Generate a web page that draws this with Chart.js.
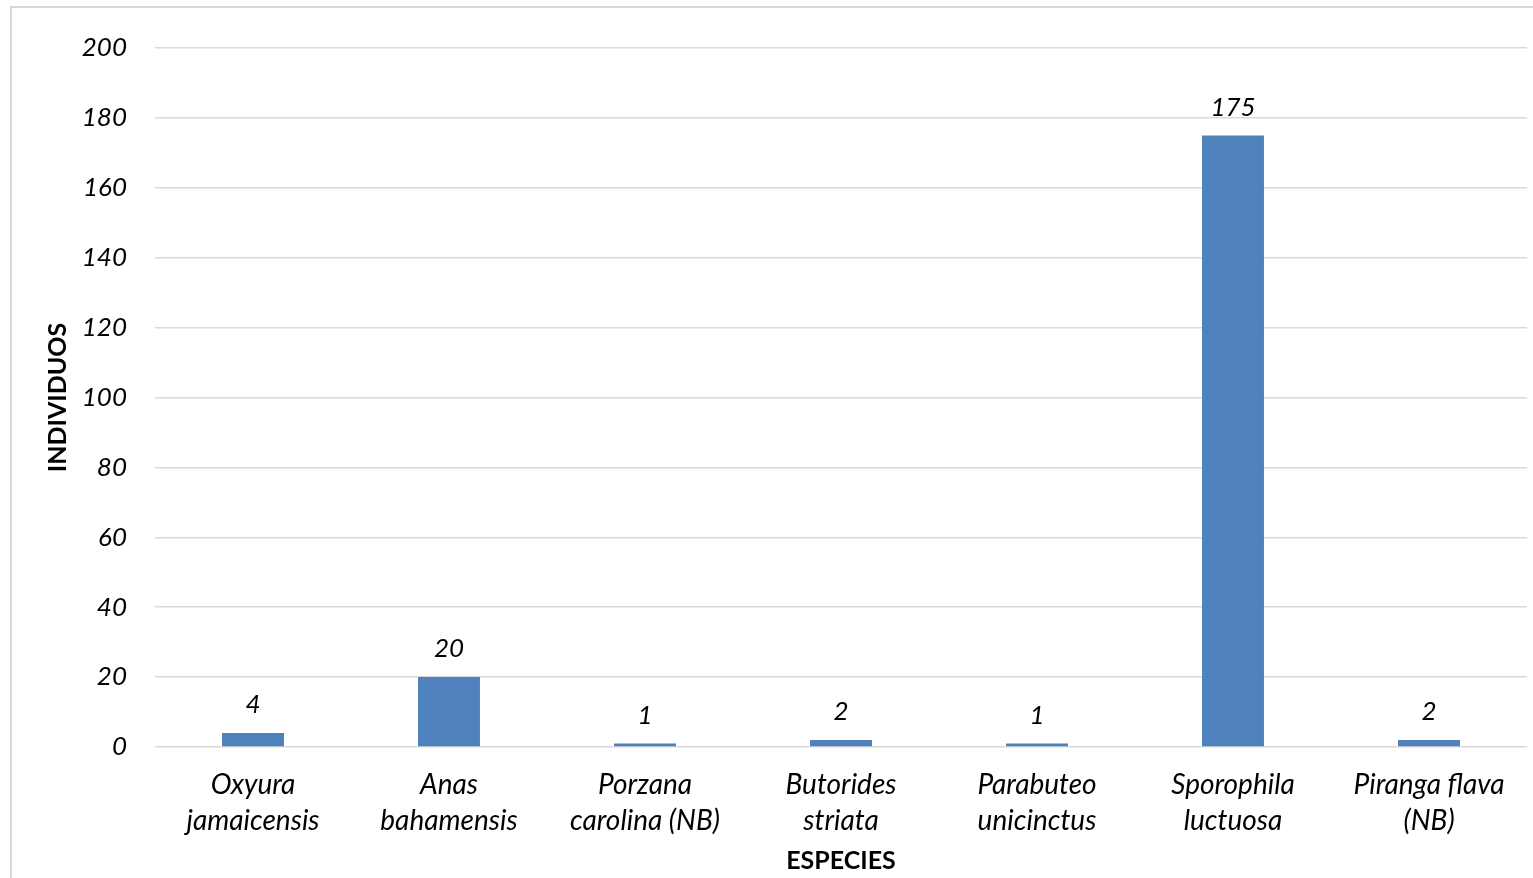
<!DOCTYPE html>
<html>
<head>
<meta charset="utf-8">
<script src="https://cdn.jsdelivr.net/npm/chart.js@4"></script>
<style>
  html, body { margin: 0; padding: 0; background: #fff; overflow: hidden; }
  #wrap { position: relative; width: 1533px; height: 878px; }
  #frame { position: absolute; left: 10px; top: 6px; width: 1600px; height: 1000px; border: 2px solid #d9d9d9; box-sizing: border-box; pointer-events: none; }
  canvas { position: absolute; left: 0; top: 0; }
</style>
</head>
<body>
<div id="wrap">
  <div id="frame"></div>
  <canvas id="chart" width="1533" height="878"></canvas>
</div>
<script>
const species = [
  ['Oxyura', 'jamaicensis'],
  ['Anas', 'bahamensis'],
  ['Porzana', 'carolina (NB)'],
  ['Butorides', 'striata'],
  ['Parabuteo', 'unicinctus'],
  ['Sporophila', 'luctuosa'],
  ['Piranga flava', '(NB)']
];
const individuos = [4, 20, 1, 2, 1, 175, 2];
const yTicks = [0, 20, 40, 60, 80, 100, 120, 140, 160, 180, 200];

const fontFamily = 'Lato, "Open Sans", sans-serif';

const valueLabels = {
  id: 'valueLabels',
  afterDatasetsDraw(chart) {
    const ctx = chart.ctx;
    const meta = chart.getDatasetMeta(0);
    ctx.save();
    ctx.font = 'italic 26px ' + fontFamily;
    ctx.fillStyle = '#000';
    ctx.textAlign = 'center';
    ctx.textBaseline = 'middle';
    meta.data.forEach((bar, i) => {
      ctx.fillText(String(individuos[i]), bar.x, bar.y - 28);
    });
    ctx.restore();
  }
};

new Chart(document.getElementById('chart'), {
  type: 'bar',
  data: {
    labels: species,
    datasets: [{
      data: individuos,
      backgroundColor: '#4f81bd',
      borderWidth: 0,
      categoryPercentage: 1,
      barPercentage: 0.316
    }]
  },
  options: {
    responsive: false,
    animation: false,
    devicePixelRatio: 1,
    layout: { padding: { top: 48, right: 6, left: 0, bottom: 0 } },
    plugins: { legend: { display: false }, tooltip: { enabled: false } },
    scales: {
      x: {
        grid: { display: false, drawTicks: false },
        border: { display: false },
        ticks: {
          color: '#000',
          padding: 20,
          maxRotation: 0,
          autoSkip: false,
          font: { family: fontFamily, size: 28, style: 'italic', lineHeight: 36 / 28 }
        },
        title: {
          display: true,
          text: 'ESPECIES',
          color: '#000',
          font: { family: fontFamily, size: 25, weight: 'bold', lineHeight: 1.2 },
          padding: { top: 0, bottom: 2 }
        },
        afterFit(scale) { scale.height = 131; }
      },
      y: {
        min: 0,
        max: 200,
        afterBuildTicks(scale) { scale.ticks = yTicks.map(v => ({ value: v })); },
        grid: { color: '#d9d9d9', lineWidth: 1.5, drawTicks: false },
        border: { display: false },
        ticks: {
          color: '#000',
          padding: 28,
          font: { family: fontFamily, size: 26, style: 'italic' }
        },
        title: {
          display: true,
          text: 'INDIVIDUOS',
          color: '#000',
          font: { family: fontFamily, size: 25, weight: 'bold', lineHeight: 1.2 },
          padding: { top: 43, bottom: 0 }
        },
        afterFit(scale) { scale.width = 155; }
      }
    }
  },
  plugins: [valueLabels]
});
</script>
</body>
</html>
